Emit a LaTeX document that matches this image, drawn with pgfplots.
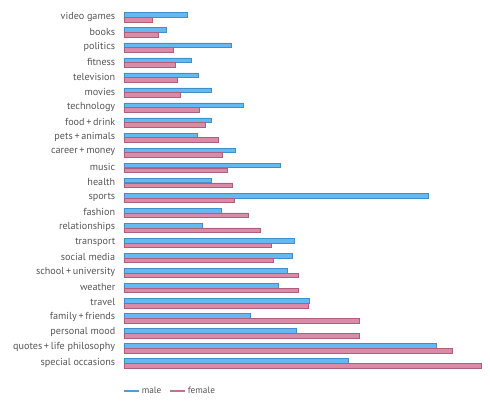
\documentclass[border=0pt]{standalone}
\usepackage{fontspec}
\setmainfont{PT Sans}
\usepackage{pgfplots}
\pgfplotsset{compat=1.18}

\definecolor{maleFill}{HTML}{66B8F0}
\definecolor{maleEdge}{HTML}{3F8FCB}
\definecolor{femFill}{HTML}{D98BA8}
\definecolor{femEdge}{HTML}{AE5F7E}
\definecolor{labelGray}{HTML}{555555}

% bar ends measured in px from the value axis (1 unit = 1bp)
\pgfplotstableread{
idx male female
0  63.7  28.7
1  42.7  34.3
2  107.0 49.3
3  67.7  51.7
4  74.3  53.7
5  87.3  56.3
6  119.3 75.0
7  87.3  81.7
8  73.3  94.7
9  111.7 98.3
10 156.7 103.3
11 87.3  108.7
12 304.7 110.7
13 97.7  124.7
14 78.7  136.0
15 170.0 147.7
16 168.3 149.7
17 163.7 174.7
18 154.0 174.7
19 185.7 184.3
20 126.7 235.0
21 172.7 235.7
22 312.0 328.0
23 224.7 357.3
}\topics

\begin{document}
\begin{tikzpicture}
\begin{axis}[
  scale only axis,
  width=358bp, height=361bp,
  xmin=0, xmax=358,
  ymin=-0.5, ymax=23.5,
  y dir=reverse,
  hide x axis,
  axis line style={draw=none},
  ytick style={draw=none},
  xbar, bar width=4.6bp,
  ytick=data,
  yticklabels={video games, books, politics, fitness, television, movies,
    technology, food\,+\,drink, pets\,+\,animals, career\,+\,money, music,
    health, sports, fashion, relationships, transport, social media,
    school\,+\,university, weather, travel, family\,+\,friends,
    personal mood, quotes\,+\,life philosophy, special occasions},
  y tick label style={font=\fontsize{10.2}{12}\selectfont, text=labelGray,
    anchor=east, xshift=-1bp, yshift=0.8bp},
  clip=false,
  legend columns=2,
  legend style={at={(0,0)}, anchor=north west, yshift=-12bp, xshift=-4bp,
    draw=none, fill=none, font=\fontsize{9.3}{11}\selectfont, text=labelGray,
    /tikz/every even column/.append style={column sep=6bp}},
  legend image code/.code={\draw[#1, line width=1.6bp] (0bp,0bp) -- (15bp,0bp);},
]
\addplot[fill=maleFill, draw=maleEdge, line width=0.5bp, bar shift=2.35bp,
  legend image post style={draw=maleFill!85!black, fill=none}]
  table[x=male, y=idx] {\topics};
\addplot[fill=femFill, draw=femEdge, line width=0.5bp, bar shift=-2.35bp,
  legend image post style={draw=femFill!85!black, fill=none}]
  table[x=female, y=idx] {\topics};
\legend{male, female}
\end{axis}
\pgfresetboundingbox
\path (-124bp,-31.2bp) rectangle (366bp,370.8bp);
\end{tikzpicture}
\end{document}
